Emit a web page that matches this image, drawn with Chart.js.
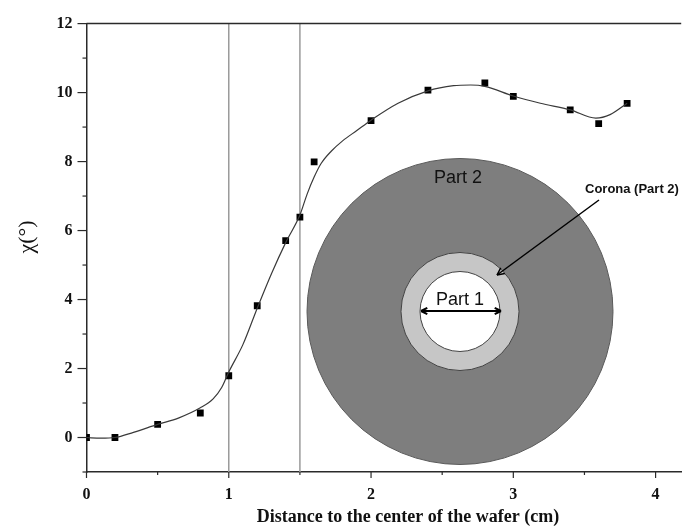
<!DOCTYPE html>
<html>
<head>
<meta charset="utf-8">
<script src="https://cdn.jsdelivr.net/npm/chart.js@4/dist/chart.umd.min.js"></script>
<style>
  html, body { margin: 0; padding: 0; background: #fff; }
</style>
</head>
<body>
<canvas id="grafico" width="686" height="530"></canvas>
<script>
// Pontos medidos (quadrados)
const pontosX = [0, 0.2, 0.5, 0.8, 1.0, 1.2, 1.4, 1.5, 1.6, 2.0, 2.4, 2.8, 3.0, 3.4, 3.6, 3.8];
const pontosY = [0, 0, 0.38, 0.71, 1.79, 3.82, 5.71, 6.39, 7.99, 9.19, 10.07, 10.28, 9.89, 9.50, 9.10, 9.69];

// Curva ajustada, lida ao longo da linha
const curvaX = [0, 0.1, 0.2, 0.33, 0.5, 0.65, 0.8, 0.89, 0.95, 1.0, 1.1, 1.2, 1.3, 1.4, 1.5, 1.55, 1.6, 1.65, 1.72, 1.8, 1.9, 2.0, 2.19, 2.4, 2.58, 2.7, 2.8, 3.0, 3.19, 3.4, 3.58, 3.68, 3.8];
const curvaY = [0, -0.02, 0, 0.15, 0.38, 0.57, 0.86, 1.12, 1.45, 1.9, 2.7, 3.75, 4.75, 5.65, 6.45, 7.05, 7.55, 7.95, 8.3, 8.6, 8.9, 9.2, 9.69, 10.05, 10.2, 10.22, 10.18, 9.9, 9.69, 9.5, 9.26, 9.36, 9.69];

// Linhas verticais de referência
const linhasVerticais = [1, 1.5];

// Marcas dos eixos
const ticksX = [0, 0.5, 1, 1.5, 2, 2.5, 3, 3.5, 4];
const rotulosX = ['0', '', '1', '', '2', '', '3', '', '4'];
const ticksY = [-1, 0, 1, 2, 3, 4, 5, 6, 7, 8, 9, 10, 11, 12];
const rotulosY = ['', '0', '', '2', '', '4', '', '6', '', '8', '', '10', '', '12'];

const tituloX = 'Distance to the center of the wafer (cm)';
const tituloY = 'χ(°)';

const corEixo = '#2a2a2a';

const rotuloDe = (valores, rotulos, v) => {
    const i = valores.findIndex(t => Math.abs(t - v) < 1e-9);
    return i >= 0 ? rotulos[i] : '';
};

// Linhas verticais, bordas e marcas dos eixos
const pluginMoldura = {
    id: 'moldura',
    beforeDatasetsDraw(chart) {
        const { ctx, chartArea: a, scales: { x, y } } = chart;
        ctx.save();
        ctx.strokeStyle = '#9a9a9a';
        ctx.lineWidth = 1.5;
        linhasVerticais.forEach(v => {
            const px = x.getPixelForValue(v);
            ctx.beginPath();
            ctx.moveTo(px, a.top);
            ctx.lineTo(px, a.bottom);
            ctx.stroke();
        });

        // Esquema do wafer
        const cx = 460, cy = 311.5;
        const circulo = (r, fill, stroke) => {
            ctx.beginPath();
            ctx.arc(cx, cy, r, 0, Math.PI * 2);
            ctx.fillStyle = fill;
            ctx.fill();
            ctx.lineWidth = 1;
            ctx.strokeStyle = stroke;
            ctx.stroke();
        };
        circulo(153, '#7e7e7e', '#5a5a5a');
        circulo(59, '#c6c6c6', '#444');
        circulo(40, '#ffffff', '#444');

        ctx.fillStyle = '#111';
        ctx.textAlign = 'center';
        ctx.textBaseline = 'middle';
        ctx.font = '18px "Liberation Sans", Arial, sans-serif';
        ctx.fillText('Part 2', cx - 2, 178);
        ctx.fillText('Part 1', cx, 300);

        // Seta dupla do diâmetro
        const seta = (x0, y0, x1, y1, tam) => {
            const ang = Math.atan2(y1 - y0, x1 - x0);
            ctx.beginPath();
            ctx.moveTo(x1, y1);
            ctx.lineTo(x1 - tam * Math.cos(ang - 0.45), y1 - tam * Math.sin(ang - 0.45));
            ctx.moveTo(x1, y1);
            ctx.lineTo(x1 - tam * Math.cos(ang + 0.45), y1 - tam * Math.sin(ang + 0.45));
            ctx.stroke();
        };
        ctx.strokeStyle = '#000';
        ctx.lineWidth = 2;
        ctx.beginPath();
        ctx.moveTo(421, 311);
        ctx.lineTo(501, 311);
        ctx.stroke();
        seta(501, 311, 421, 311, 7);
        seta(421, 311, 501, 311, 7);

        ctx.lineWidth = 1.5;
        ctx.beginPath();
        ctx.moveTo(599, 200);
        ctx.lineTo(497, 275);
        ctx.stroke();
        seta(599, 200, 497, 275, 8);

        ctx.textAlign = 'left';
        ctx.font = 'bold 13px "Liberation Sans", Arial, sans-serif';
        ctx.fillText('Corona (Part 2)', 585, 189);
        ctx.restore();
    },
    afterDraw(chart) {
        const { ctx, chartArea: a, scales: { x, y } } = chart;
        ctx.save();
        ctx.strokeStyle = corEixo;
        ctx.lineWidth = 1.5;
        ctx.beginPath();
        ctx.moveTo(a.left, a.top);
        ctx.lineTo(a.right, a.top);
        ctx.stroke();

        ctx.lineWidth = 1.2;
        ticksX.forEach((v, i) => {
            const px = x.getPixelForValue(v);
            const len = rotulosX[i] ? 6 : 3;
            ctx.beginPath();
            ctx.moveTo(px, a.bottom);
            ctx.lineTo(px, a.bottom + len);
            ctx.stroke();
        });
        ticksY.forEach((v, i) => {
            const py = y.getPixelForValue(v);
            const len = rotulosY[i] ? 9 : 4;
            ctx.beginPath();
            ctx.moveTo(a.left, py);
            ctx.lineTo(a.left - len, py);
            ctx.stroke();
        });

        // Títulos dos eixos
        ctx.fillStyle = '#111';
        ctx.textAlign = 'center';
        ctx.textBaseline = 'middle';
        ctx.font = 'bold 18px "Liberation Serif", "Times New Roman", serif';
        ctx.fillText(tituloX, 408, 517);

        ctx.translate(27, 237);
        ctx.rotate(-Math.PI / 2);
        ctx.font = '22px "Liberation Serif", "Times New Roman", serif';
        ctx.fillText(tituloY, 0, 0);
        ctx.restore();
    }
};

const ctx = document.getElementById('grafico').getContext('2d');

new Chart(ctx, {
    type: 'line',
    data: {
        datasets: [
            {
                label: 'Ajuste',
                data: curvaX.map((v, i) => ({ x: v, y: curvaY[i] })),
                borderColor: '#3a3a3a',
                borderWidth: 1.2,
                pointRadius: 0,
                cubicInterpolationMode: 'monotone',
                fill: false
            },
            {
                label: 'Medidas',
                data: pontosX.map((v, i) => ({ x: v, y: pontosY[i] })),
                showLine: false,
                pointStyle: 'rect',
                pointRadius: 4.8,
                pointBackgroundColor: '#000',
                pointBorderColor: '#000',
                pointBorderWidth: 0
            }
        ]
    },
    options: {
        responsive: false,
        devicePixelRatio: 1,
        animation: false,
        layout: { padding: { top: 22, right: 0, left: 0, bottom: 0 } },
        plugins: {
            legend: { display: false },
            tooltip: { enabled: false }
        },
        scales: {
            x: {
                type: 'linear',
                min: 0,
                max: 4.18,
                afterBuildTicks: (s) => { s.ticks = ticksX.map(v => ({ value: v })); },
                afterFit: (s) => { s.height = 58; },
                grid: { display: false, drawTicks: false },
                border: { display: true, color: corEixo, width: 1.5 },
                ticks: {
                    autoSkip: false,
                    maxRotation: 0,
                    padding: 13,
                    color: '#111',
                    font: { family: '"Liberation Serif", "Times New Roman", serif', size: 16, weight: 'bold' },
                    callback: (v) => rotuloDe(ticksX, rotulosX, v)
                }
            },
            y: {
                min: -1,
                max: 12,
                afterBuildTicks: (s) => { s.ticks = ticksY.map(v => ({ value: v })); },
                afterFit: (s) => { s.width = 86.5; },
                grid: { display: false, drawTicks: false },
                border: { display: true, color: corEixo, width: 1.5 },
                ticks: {
                    autoSkip: false,
                    padding: 14,
                    color: '#111',
                    font: { family: '"Liberation Serif", "Times New Roman", serif', size: 16, weight: 'bold' },
                    callback: (v) => rotuloDe(ticksY, rotulosY, v)
                }
            }
        }
    },
    plugins: [pluginMoldura]
});
</script>
</body>
</html>
